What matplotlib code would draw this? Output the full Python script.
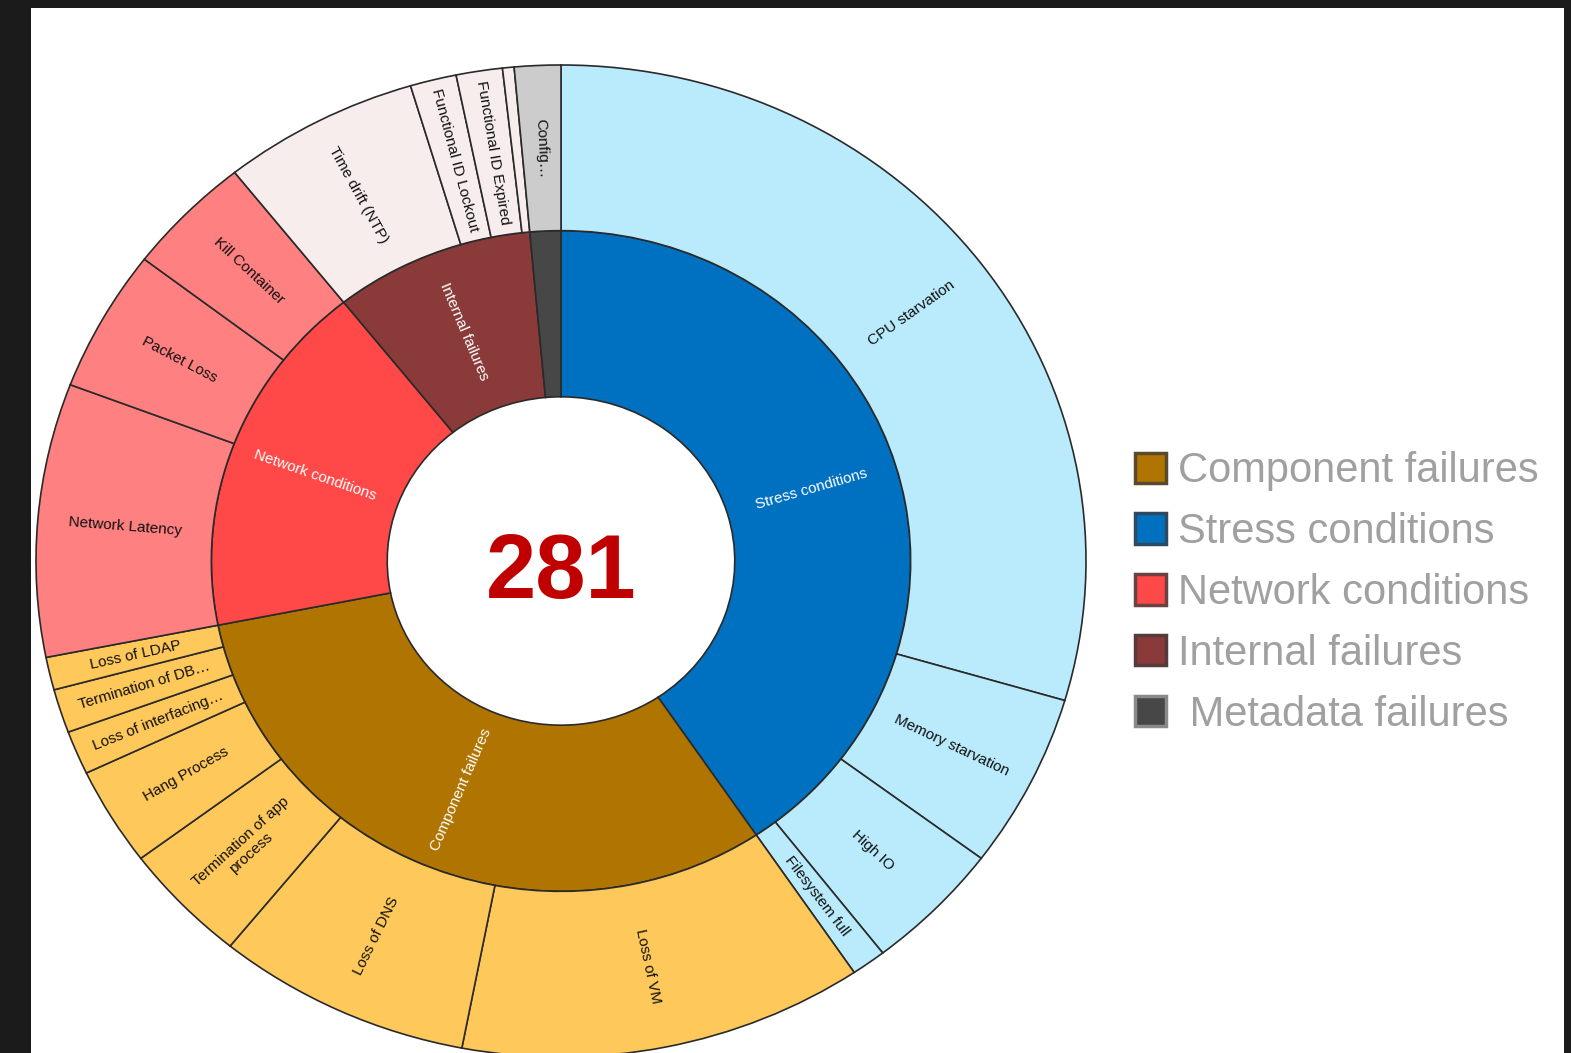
import numpy as np
import matplotlib.pyplot as plt
from matplotlib.patches import Patch, Rectangle

plt.rcParams['font.family'] = ['Liberation Sans', 'DejaVu Sans']

# inner ring: categories
inner_labels = ['Stress conditions', 'Component failures', 'Network conditions',
                'Internal failures', 'Metadata failures']
inner_values = [114, 88, 49, 26, 4]
inner_text = ['Stress conditions', 'Component failures', 'Network conditions',
              'Internal failures', '']

# outer ring: sub categories (same clockwise order)
outer_labels = ['CPU starvation', 'Memory starvation', 'High IO', 'Filesystem full',
                'Loss of VM', 'Loss of DNS', 'Termination of app\nprocess', 'Hang Process',
                'Loss of interfacing…', 'Termination of DB…', 'Loss of LDAP',
                'Network Latency', 'Packet Loss', 'Kill Container',
                'Time drift (NTP)', 'Functional ID Lockout', 'Functional ID Expired', '',
                'Config…']
outer_values = [83, 16, 12, 3,
                35, 22, 11, 9, 4, 4, 3,
                25, 13, 11,
                17, 4, 4, 1,
                4]
outer_parent = [0, 0, 0, 0,
                1, 1, 1, 1, 1, 1, 1,
                2, 2, 2,
                3, 3, 3, 3,
                4]

legend_order = [1, 0, 2, 3, 4]
legend_labels = ['Component failures', 'Stress conditions', 'Network conditions',
                 'Internal failures', ' Metadata failures']

inner_colors = ['#0070C0', '#B07400', '#FF4848', '#8B3A3A', '#474747']
outer_colors = ['#BAEBFC', '#FFC85A', '#FF8080', '#F8EDED', '#CCCCCC']
legend_edges = ['#5a4a2c', '#2e4a62', '#6a4242', '#553c3c', '#8a8a8a']

W, H = 1571, 1053
fig = plt.figure(figsize=(W / 100, H / 100), dpi=100, facecolor='#1b1b1b')
fig.add_artist(Rectangle((31 / W, 0), (1564 - 31) / W, (H - 8) / H,
                         transform=fig.transFigure, facecolor='white',
                         edgecolor='none', zorder=-10))

cx, cy, rx, ry = 561, 561, 525, 496
ax = fig.add_axes([(cx - rx) / W, (H - cy - ry) / H, 2 * rx / W, 2 * ry / H])
ax.patch.set_alpha(0)

r_hole, r_mid, r_out = 0.331, 0.666, 1.0
wp = dict(edgecolor='#2a2a2a', linewidth=1.2)

inner_w, _ = ax.pie(inner_values, radius=r_mid, startangle=90, counterclock=False,
                    colors=inner_colors, wedgeprops=dict(width=r_mid - r_hole, **wp))
outer_w, _ = ax.pie(outer_values, radius=r_out, startangle=90, counterclock=False,
                    colors=[outer_colors[p] for p in outer_parent],
                    wedgeprops=dict(width=r_out - r_mid, **wp))
ax.set_aspect('auto')
ax.set_xlim(-1, 1)
ax.set_ylim(-1, 1)
ax.axis('off')


def ring_labels(values, texts, r, color):
    tot = sum(values)
    cum = np.cumsum([0] + list(values))
    for i, t in enumerate(texts):
        if not t:
            continue
        a = np.radians(90 - 360 * (cum[i] + values[i] / 2) / tot)
        x, y = r * np.cos(a), r * np.sin(a)
        p0 = ax.transData.transform((0, 0))
        p1 = ax.transData.transform((np.cos(a), np.sin(a)))
        rot = np.degrees(np.arctan2(p1[1] - p0[1], p1[0] - p0[0]))
        if rot > 90:
            rot -= 180
        elif rot < -90:
            rot += 180
        ax.text(x, y, t, rotation=rot, rotation_mode='anchor', ha='center', va='center',
                multialignment='center', fontsize=11, color=color, linespacing=1.0)


ring_labels(inner_values, inner_text, (r_hole + r_mid) / 2, 'white')
ring_labels(outer_values, outer_labels, (r_mid + r_out) / 2, '#111111')

ax.text(0, -0.028, str(sum(inner_values)), ha='center', va='center',
        fontsize=65, fontweight='bold', color='#C00000')

handles = [Patch(facecolor=inner_colors[i], edgecolor=legend_edges[k], linewidth=2.5)
           for k, i in enumerate(legend_order)]
fig.legend(handles, legend_labels, loc='center left', bbox_to_anchor=(1135 / W, 1 - 593 / H),
           frameon=False, fontsize=30, labelcolor='#a0a0a0', borderpad=0,
           handlelength=0.74, handleheight=0.74, handletextpad=0.28, labelspacing=0.5,
           borderaxespad=0)

fig.savefig('out.png', dpi=100, facecolor=fig.get_facecolor())
